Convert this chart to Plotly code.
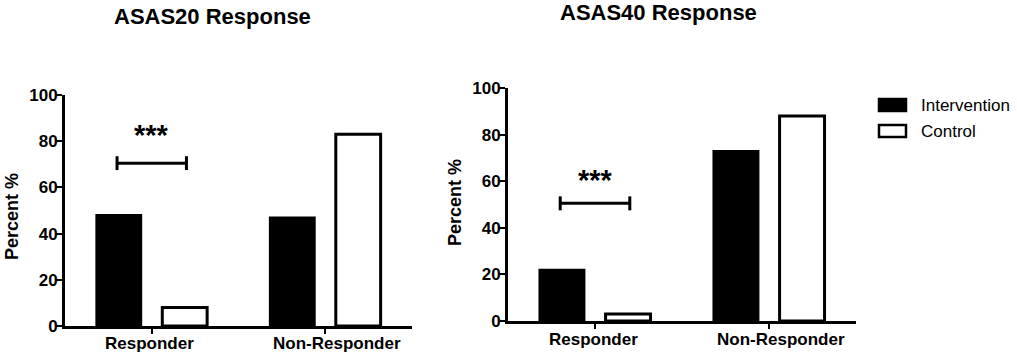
import plotly.graph_objects as go

categories = ["Responder", "Non-Responder"]
series_names = ["Intervention", "Control"]
asas20_intervention = [48, 47]
asas20_control = [8, 83]
asas40_intervention = [22, 73]
asas40_control = [3, 88]
panel_titles = ["ASAS20 Response", "ASAS40 Response"]
sig_heights = [70.5, 50.5]
sig_label = "***"
y_ticks = [0, 20, 40, 60, 80, 100]

W, H = 1017, 353
FONT = "Liberation Sans, Arial, sans-serif"
label_shift = [-2, 12]  # horizontal pixel nudge of category labels
star_shift = [10, 5]  # pixel gap of the *** text box above the bracket


def px_x(x):
    return x / W


def px_y(y):
    return 1 - y / H


fig = go.Figure()
panels = [
    (asas20_intervention, asas20_control, "x", "y"),
    (asas40_intervention, asas40_control, "x2", "y2"),
]
for i, (iv, ct, xa, ya) in enumerate(panels):
    fig.add_trace(go.Bar(x=categories, y=iv, name=series_names[0], xaxis=xa, yaxis=ya,
                         marker=dict(color="black", line=dict(color="black", width=2)),
                         showlegend=False))
    fig.add_trace(go.Bar(x=categories, y=ct, name=series_names[1], xaxis=xa, yaxis=ya,
                         marker=dict(color="white", line=dict(color="black", width=3)),
                         showlegend=False))

axis_common_x = dict(showline=True, linecolor="black", linewidth=3, ticks="outside",
                     ticklen=5, tickwidth=2, tickcolor="black", range=[-0.5, 1.5],
                     showgrid=False, zeroline=False, automargin=False,
                     showticklabels=False)
axis_common_y = dict(showline=True, linecolor="black", linewidth=3, ticks="outside",
                     ticklen=6, tickwidth=2, tickcolor="black", range=[0, 100],
                     tickvals=y_ticks, showgrid=False, zeroline=False, automargin=False,
                     ticklabelstandoff=-5,
                     tickfont=dict(family=FONT, size=17, color="black", weight="bold"))

fig.update_layout(
    width=W, height=H,
    margin=dict(l=0, r=0, t=0, b=0, pad=0, autoexpand=False),
    paper_bgcolor="white", plot_bgcolor="white",
    barmode="group", bargap=0.24, bargroupgap=0.32,
    xaxis=dict(domain=[px_x(65), px_x(412)], anchor="y", **axis_common_x),
    yaxis=dict(domain=[1 - 326 / H, 1 - 95 / H], anchor="x", **axis_common_y),
    xaxis2=dict(domain=[px_x(508), px_x(856)], anchor="y2", **axis_common_x),
    yaxis2=dict(domain=[1 - 321 / H, 1 - 88 / H], anchor="x2", **axis_common_y),
)

shapes = []
annotations = []
for i, (xa, ya) in enumerate([("x", "y"), ("x2", "y2")]):
    h = sig_heights[i]
    shapes.append(dict(type="line", xref=xa, yref=ya, x0=-0.2, x1=0.2, y0=h, y1=h,
                       line=dict(color="black", width=3)))
    for xx in (-0.2, 0.2):
        shapes.append(dict(type="line", xref=xa, yref=ya, x0=xx, x1=xx, y0=h - 3, y1=h + 3,
                           line=dict(color="black", width=3)))
    annotations.append(dict(xref=xa, yref=ya, x=0, y=h, text=sig_label, showarrow=False,
                            yanchor="bottom", yshift=star_shift[i],
                            font=dict(family=FONT, size=29, color="black", weight="bold")))
    # category labels
    for j, cat in enumerate(categories):
        annotations.append(dict(xref=xa, yref=ya, x=cat, y=0, text=cat, showarrow=False,
                                xanchor="center", yanchor="middle", xshift=label_shift[j],
                                yshift=-17 if i == 0 else -18,
                                font=dict(family=FONT, size=17, color="black", weight="bold")))

# titles
for t, cx, cy in [(panel_titles[0], 212, 17), (panel_titles[1], 658, 12)]:
    annotations.append(dict(xref="paper", yref="paper", x=px_x(cx), y=px_y(cy), text=t,
                            showarrow=False, xanchor="center", yanchor="middle",
                            font=dict(family=FONT, size=22, color="black", weight="bold")))

# y-axis titles
for cx, cy in [(12, 217), (455, 203)]:
    annotations.append(dict(xref="paper", yref="paper", x=px_x(cx), y=px_y(cy), text="Percent %",
                            textangle=-90, showarrow=False, xanchor="center", yanchor="middle",
                            font=dict(family=FONT, size=18, color="black", weight="bold")))

# legend
legend_items = [(series_names[0], "black", 105), (series_names[1], "white", 131)]
for name, fill, cy in legend_items:
    shapes.append(dict(type="rect", xref="paper", yref="paper",
                       x0=px_x(879), x1=px_x(906), y0=px_y(cy - 6), y1=px_y(cy + 6),
                       fillcolor=fill, line=dict(color="black", width=2.5)))
    annotations.append(dict(xref="paper", yref="paper", x=px_x(919), y=px_y(cy), text=name,
                            showarrow=False, xanchor="left", yanchor="middle",
                            font=dict(family=FONT, size=17, color="black")))

fig.update_layout(shapes=shapes, annotations=annotations)
fig.write_html("out.html")
